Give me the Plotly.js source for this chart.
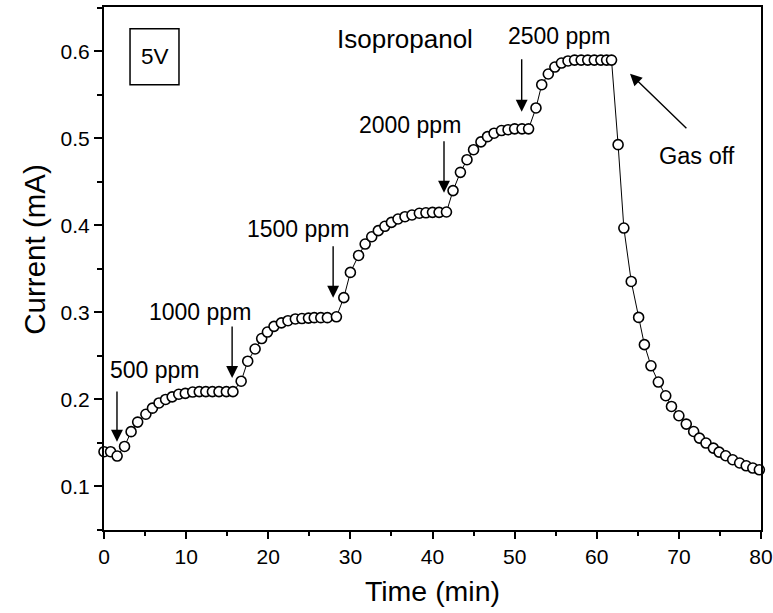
<!DOCTYPE html>
<html>
<head>
<meta charset="utf-8">
<script src="https://cdn.plot.ly/plotly-3.0.1.min.js"></script>
<style>html,body{margin:0;padding:0;background:#fff;}#chart{width:773px;height:613px;}</style>
</head>
<body>
<div id="chart"></div>
<script>
const timeMin = [0, 0.8, 1.6, 2.5, 3.3, 4.1, 5.1, 5.9, 6.7, 7.5, 8.3, 9.1, 9.9, 10.8, 11.6, 12.4, 13.2, 14.0, 14.9, 15.7,
  16.7, 17.5, 18.4, 19.2, 19.9, 20.7, 21.6, 22.4, 23.3, 24.1, 24.9, 25.6, 26.4, 27.2, 28.3,
  29.2, 30.0, 31.0, 31.8, 32.6, 33.4, 34.2, 35.0, 35.8, 36.65, 37.5, 38.4, 39.2, 40.0, 40.8, 41.7,
  42.5, 43.4, 44.2, 45.0, 45.9, 46.7, 47.5, 48.4, 49.2, 50.0, 50.9, 51.7,
  52.6, 53.3, 54.1, 54.9, 55.7, 56.5, 57.3, 58.1, 58.9, 59.7, 60.5, 61.2, 61.8,
  62.6, 63.3, 64.2, 65.1, 65.8, 66.6, 67.5, 68.4, 69.1, 70.0, 70.9, 71.8, 72.5, 73.3, 74.2, 74.9,
  75.7, 76.55, 77.4, 78.2, 79.0, 79.8];
const currentMA = [0.140, 0.140, 0.135, 0.146, 0.163, 0.174, 0.183, 0.190, 0.196, 0.200, 0.203, 0.206, 0.207, 0.2085, 0.209, 0.209, 0.209, 0.209, 0.209, 0.209,
  0.221, 0.244, 0.258, 0.270, 0.2775, 0.284, 0.288, 0.2905, 0.2925, 0.293, 0.2935, 0.294, 0.294, 0.294, 0.295,
  0.317, 0.346, 0.3655, 0.3786, 0.387, 0.394, 0.399, 0.4035, 0.4074, 0.410, 0.412, 0.414, 0.4145, 0.415, 0.415, 0.4154,
  0.440, 0.461, 0.4755, 0.487, 0.496, 0.502, 0.506, 0.509, 0.510, 0.511, 0.511, 0.511,
  0.535, 0.5617, 0.574, 0.582, 0.5866, 0.589, 0.590, 0.590, 0.590, 0.590, 0.590, 0.590, 0.590,
  0.4928, 0.397, 0.3356, 0.2943, 0.263, 0.2387, 0.220, 0.2043, 0.192, 0.1813, 0.1717, 0.1632, 0.1556, 0.1499, 0.1441, 0.1395,
  0.1353, 0.1307, 0.127, 0.1238, 0.1212, 0.1192];

const xTicks = [0, 10, 20, 30, 40, 50, 60, 70, 80];
const yTicks = [0.1, 0.2, 0.3, 0.4, 0.5, 0.6];
const xTitle = "Time (min)";
const yTitle = "Current (mA)";
const gasLabel = "Isopropanol";
const voltageLabel = "5V";
const offLabel = "Gas off";
const concLabels = ["500 ppm", "1000 ppm", "1500 ppm", "2000 ppm", "2500 ppm"];

const FONT = "Liberation Sans, Arial, Helvetica, sans-serif";

const trace = {
  x: timeMin, y: currentMA, type: "scatter", mode: "lines+markers",
  line: {color: "#000", width: 1},
  marker: {symbol: "circle", size: 10, color: "#fff", line: {color: "#000", width: 1.6}},
  cliponaxis: false, showlegend: false, hoverinfo: "skip"
};

// label positions (data coordinates) and arrow tail/head
const concText = [[6.2, 0.234], [11.7, 0.3008], [23.6, 0.396], [37.3, 0.5157], [55.4, 0.618]];
const concArrows = [[1.58, 0.211, 0.1514], [15.6, 0.2856, 0.2247], [27.9, 0.3778, 0.3169], [41.4, 0.4985, 0.4376], [50.86, 0.5928, 0.5307]];

const annotations = [];
concLabels.forEach((t, i) => {
  annotations.push({x: concText[i][0], y: concText[i][1], xref: "x", yref: "y", text: t, showarrow: false,
    font: {family: FONT, size: 23, color: "#000"}, xanchor: "center", yanchor: "middle"});
  annotations.push({x: concArrows[i][0], y: concArrows[i][2], ax: concArrows[i][0], ay: concArrows[i][1],
    xref: "x", yref: "y", axref: "x", ayref: "y", text: "", showarrow: true,
    arrowhead: 2, arrowsize: 1.7, arrowwidth: 1.4, arrowcolor: "#000", standoff: 0, startstandoff: 0});
});
annotations.push({x: 36.65, y: 0.6146, xref: "x", yref: "y", text: gasLabel, showarrow: false,
  font: {family: FONT, size: 26, color: "#000"}});
annotations.push({x: 72.2, y: 0.48, xref: "x", yref: "y", text: offLabel, showarrow: false,
  font: {family: FONT, size: 23.5, color: "#000"}});
annotations.push({x: 64.05, y: 0.5744, ax: 71.1, ay: 0.51, xref: "x", yref: "y", axref: "x", ayref: "y",
  text: "", showarrow: true, arrowhead: 2, arrowsize: 1.7, arrowwidth: 1.4, arrowcolor: "#000", standoff: 0});
annotations.push({x: 6.15, y: 0.594, xref: "x", yref: "y", text: voltageLabel, showarrow: false,
  font: {family: FONT, size: 22.5, color: "#000"}});
// y-axis title (placed as rotated text, shifted slightly above plot centre as in the source)
annotations.push({x: -0.105, y: 0.536, xref: "paper", yref: "paper", text: yTitle, showarrow: false,
  textangle: -90, font: {family: FONT, size: 29.5, color: "#000"}, xanchor: "center", yanchor: "middle"});

const layout = {
  width: 773, height: 613,
  margin: {l: 104, r: 12, t: 7, b: 83, pad: 0},
  paper_bgcolor: "#fff", plot_bgcolor: "#fff",
  font: {family: FONT, color: "#000"},
  xaxis: {
    range: [0, 80], tickvals: xTicks, ticktext: xTicks.map(String),
    ticks: "outside", ticklen: 7, tickwidth: 2, tickcolor: "#000",
    minor: {dtick: 5, tick0: 0, ticks: "outside", ticklen: 4, tickwidth: 2, tickcolor: "#000", showgrid: false},
    showline: true, linewidth: 2, linecolor: "#000", mirror: true,
    showgrid: false, zeroline: false,
    tickfont: {family: FONT, size: 21, color: "#000"},
    title: {text: xTitle, font: {family: FONT, size: 28.5, color: "#000"}, standoff: 14}
  },
  yaxis: {
    range: [0.05, 0.651], tickvals: yTicks, ticktext: yTicks.map(v => v.toFixed(1)),
    ticks: "outside", ticklen: 8, tickwidth: 2, tickcolor: "#000",
    minor: {dtick: 0.05, tick0: 0.05, ticks: "outside", ticklen: 5, tickwidth: 2, tickcolor: "#000", showgrid: false},
    showline: true, linewidth: 2, linecolor: "#000", mirror: true,
    showgrid: false, zeroline: false,
    tickfont: {family: FONT, size: 21, color: "#000"}
  },
  shapes: [{type: "rect", xref: "x", yref: "y", x0: 3.17, x1: 9.13, y0: 0.5617, y1: 0.626,
    line: {color: "#000", width: 1.5}, fillcolor: "rgba(0,0,0,0)"}],
  annotations: annotations
};

Plotly.newPlot("chart", [trace], layout, {displayModeBar: false, staticPlot: true});
</script>
</body>
</html>
